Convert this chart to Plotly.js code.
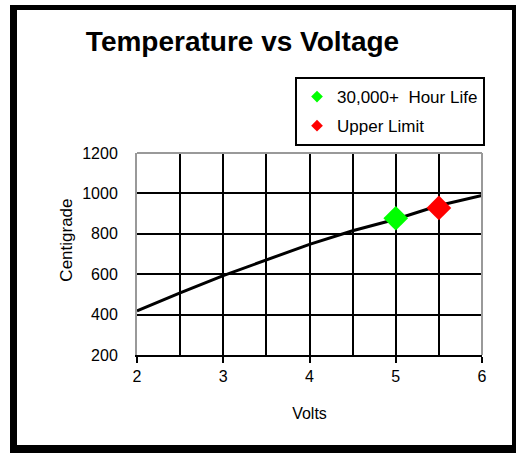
<!DOCTYPE html>
<html>
<head>
<meta charset="utf-8">
<script src="https://cdn.plot.ly/plotly-3.0.1.min.js"></script>
<style>
  html, body { margin: 0; padding: 0; background: #fff; }
  #wrap { position: relative; width: 516px; height: 453px; overflow: hidden; }
  #chart { position: absolute; left: 0; top: 0; width: 516px; height: 453px; }
  #frame { position: absolute; left: 10px; top: 5px; width: 506px; height: 448px;
           box-sizing: border-box; border-style: solid; border-color: #000;
           border-width: 5px 4px 8px 7px; pointer-events: none; }
</style>
</head>
<body>
<div id="wrap">
  <div id="chart"></div>
  <div id="frame"></div>
</div>
<script>
// Data
const volts = [2, 2.5, 3, 3.5, 4, 4.5, 5, 5.5, 6];
const centigrade = [418, 508, 593, 672, 748, 815, 872, 940, 990];

const lifeVolts = [5];
const lifeTemp = [877];
const lifeLabel = '30,000+  Hour Life';

const limitVolts = [5.5];
const limitTemp = [928];
const limitLabel = 'Upper Limit';

const xTicks = [2, 3, 4, 5, 6];
const yTicks = [200, 400, 600, 800, 1000, 1200];

const FONT = 'Liberation Sans, Arial, sans-serif';

const traces = [
  { x: volts, y: centigrade, mode: 'lines', type: 'scatter',
    line: { color: '#000', width: 3 }, showlegend: false, hoverinfo: 'x+y' },
  { x: lifeVolts, y: lifeTemp, mode: 'markers', type: 'scatter', showlegend: false,
    marker: { symbol: 'diamond', size: 19, color: '#00ff00' } },
  { x: limitVolts, y: limitTemp, mode: 'markers', type: 'scatter', showlegend: false,
    marker: { symbol: 'diamond', size: 19, color: '#ff0000' } },
  // legend entries (same series, smaller legend symbol)
  { x: [null], y: [null], mode: 'markers', type: 'scatter', name: lifeLabel,
    legendgroup: 'a', marker: { symbol: 'diamond', size: 9, color: '#00ff00' } },
  { x: [null], y: [null], mode: 'markers', type: 'scatter', name: limitLabel,
    legendgroup: 'b', marker: { symbol: 'diamond', size: 9, color: '#ff0000' } }
];

const layout = {
  width: 516, height: 453,
  margin: { l: 137, r: 34, t: 153, b: 98, pad: 0 },
  paper_bgcolor: '#fff', plot_bgcolor: '#fff',
  font: { family: FONT, color: '#000', size: 16 },
  title: { text: 'Temperature vs Voltage', font: { family: FONT, size: 28, color: '#000', weight: 'bold' },
           xref: 'container', yref: 'container', x: 0.47, xanchor: 'center', y: 0.909, yanchor: 'middle' },
  xaxis: {
    range: [2, 6], tickvals: xTicks, ticks: 'outside', ticklen: 6, tickwidth: 2, tickcolor: '#000',
    showgrid: true, gridcolor: '#000', gridwidth: 2,
    minor: { dtick: 0.5, showgrid: true, gridcolor: '#000', gridwidth: 2, ticks: '' },
    showline: true, linecolor: '#000', linewidth: 2, zeroline: false,
    tickfont: { family: FONT, size: 16, color: '#000' }, ticklabelstandoff: 0,
    title: { text: 'Volts', font: { family: FONT, size: 16, color: '#000' }, standoff: 24 },
    fixedrange: true
  },
  yaxis: {
    range: [200, 1200], tickvals: yTicks, ticks: '',
    showgrid: true, gridcolor: '#000', gridwidth: 2,
    showline: true, linecolor: '#999', linewidth: 2, zeroline: false,
    tickfont: { family: FONT, size: 16, color: '#000' }, ticklabelstandoff: 14,
    fixedrange: true
  },
  shapes: [
    { type: 'line', xref: 'paper', yref: 'paper', x0: 0, x1: 1, y0: 1, y1: 1, line: { color: '#999', width: 2 }, layer: 'above' },
    { type: 'line', xref: 'paper', yref: 'paper', x0: 1, x1: 1, y0: 0, y1: 1, line: { color: '#999', width: 2 }, layer: 'above' }
  ],
  annotations: [
    { text: 'Centigrade', xref: 'paper', yref: 'paper', x: -0.207, y: 0.569, textangle: -90,
      showarrow: false, xanchor: 'center', yanchor: 'middle', font: { family: FONT, size: 17, color: '#000' } }
  ],
  legend: {
    x: 0.458, y: 1.376, xanchor: 'left', yanchor: 'top',
    bgcolor: '#fff', bordercolor: '#000', borderwidth: 2,
    font: { family: FONT, size: 17, color: '#000' },
    traceorder: 'grouped', tracegroupgap: 4, itemwidth: 30
  },
  showlegend: true
};

Plotly.newPlot('chart', traces, layout, { displayModeBar: false, staticPlot: true });
</script>
</body>
</html>
